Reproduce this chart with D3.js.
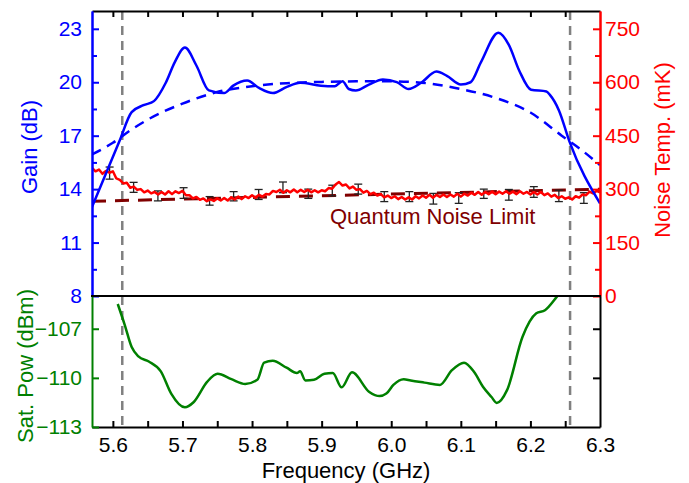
<!DOCTYPE html>
<html>
<head>
<meta charset="utf-8">
<script src="https://cdn.jsdelivr.net/npm/d3@7"></script>
<style>
body{margin:0;background:#fff;}
svg{display:block;font-family:Arial,"Liberation Sans",sans-serif;}
</style>
</head>
<body>
<svg id="chart" width="689" height="483"></svg>
<script>

// gain (measured, solid) and fit (dashed)
var gainFreq = [5.570, 5.6095, 5.627, 5.644, 5.659, 5.676, 5.689, 5.7035, 5.720, 5.738, 5.760, 5.773, 5.793, 5.810, 5.830, 5.850, 5.869, 5.899, 5.919, 5.930, 5.939, 5.949, 5.968, 5.988, 6.008, 6.025, 6.043, 6.065, 6.080, 6.100, 6.114, 6.129, 6.154, 6.169, 6.184, 6.201, 6.223, 6.228, 6.241, 6.256, 6.300];
var gainDb = [13.0, 16.7, 18.32, 18.71, 18.94, 19.97, 21.13, 21.95, 20.94, 19.54, 19.39, 19.81, 20.10, 19.68, 19.39, 19.74, 19.97, 19.81, 19.78, 20.06, 19.62, 19.54, 19.87, 20.16, 20.01, 19.62, 19.97, 20.60, 20.36, 19.87, 20.00, 21.13, 22.78, 22.10, 20.65, 19.58, 19.48, 19.29, 18.42, 16.68, 13.2];

var fitFreq = [5.570, 5.600, 5.627, 5.650, 5.700, 5.750, 5.800, 5.850, 5.900, 5.950, 6.000, 6.050, 6.100, 6.150, 6.200, 6.245, 6.270, 6.300];
var fitDb = [15.95, 16.6, 17.35, 17.9, 18.8, 19.45, 19.78, 19.95, 20.02, 20.05, 20.05, 19.95, 19.62, 19.12, 18.3, 17.0, 16.3, 15.35];

// noise temperature (mK)
var noiseFreq = [5.570, 5.575, 5.580, 5.585, 5.590, 5.595, 5.600, 5.605, 5.610, 5.615, 5.620, 5.625, 5.630, 5.635, 5.640, 5.645, 5.650, 5.655, 5.660, 5.665, 5.670, 5.675, 5.680, 5.685, 5.690, 5.695, 5.700, 5.705, 5.710, 5.715, 5.720, 5.725, 5.730, 5.735, 5.740, 5.745, 5.750, 5.755, 5.760, 5.765, 5.770, 5.775, 5.780, 5.785, 5.790, 5.795, 5.800, 5.805, 5.810, 5.815, 5.820, 5.825, 5.830, 5.835, 5.840, 5.845, 5.850, 5.855, 5.860, 5.865, 5.870, 5.875, 5.880, 5.885, 5.890, 5.895, 5.900, 5.905, 5.910, 5.915, 5.920, 5.925, 5.930, 5.935, 5.940, 5.945, 5.950, 5.955, 5.960, 5.965, 5.970, 5.975, 5.980, 5.985, 5.990, 5.995, 6.000, 6.005, 6.010, 6.015, 6.020, 6.025, 6.030, 6.035, 6.040, 6.045, 6.050, 6.055, 6.060, 6.065, 6.070, 6.075, 6.080, 6.085, 6.090, 6.095, 6.100, 6.105, 6.110, 6.115, 6.120, 6.125, 6.130, 6.135, 6.140, 6.145, 6.150, 6.155, 6.160, 6.165, 6.170, 6.175, 6.180, 6.185, 6.190, 6.195, 6.200, 6.205, 6.210, 6.215, 6.220, 6.225, 6.230, 6.235, 6.240, 6.245, 6.250, 6.255, 6.260, 6.265, 6.270, 6.275, 6.280, 6.285, 6.290, 6.295, 6.300];
var noiseMk = [360, 350, 355, 343, 351, 346, 350, 330, 326, 316, 318, 304, 307, 298, 300, 291, 296, 288, 292, 285, 292, 285, 294, 286, 294, 289, 295, 283, 283, 274, 278, 270, 274, 266, 271, 267, 274, 268, 275, 268, 277, 271, 279, 272, 280, 275, 283, 276, 284, 279, 286, 285, 295, 292, 298, 290, 297, 291, 299, 291, 298, 292, 298, 291, 297, 291, 297, 294, 303, 301, 313, 320, 310, 313, 302, 307, 298, 300, 290, 295, 286, 290, 282, 286, 277, 282, 275, 280, 272, 278, 271, 277, 271, 280, 274, 282, 276, 284, 276, 284, 278, 285, 278, 285, 279, 287, 279, 287, 282, 290, 284, 292, 284, 292, 286, 293, 286, 293, 287, 294, 287, 293, 286, 294, 287, 292, 285, 292, 285, 292, 283, 288, 279, 284, 275, 280, 273, 277, 271, 280, 276, 285, 283, 293, 288, 295, 291];

var errFreq = [5.5953, 5.6298, 5.6647, 5.7016, 5.739, 5.7735, 5.8095, 5.8444, 5.8808, 5.9153, 5.9526, 5.99, 6.026, 6.0605, 6.097, 6.133, 6.169, 6.2049, 6.2409, 6.2768];
var errMk = [345, 305, 281, 289, 267, 280, 285, 305, 287, 296, 300, 279, 279, 273, 275, 287, 284, 292, 281, 275];
var errHalf = [17, 14, 14, 15, 12, 13, 14, 15, 13, 15, 14, 14, 14, 15, 15, 13, 15, 15, 16, 15];

var qnlFreq = [5.57, 6.30];
var qnlMk = [266, 300];

// saturation power (dBm)
var satFreq = [5.607, 5.617, 5.627, 5.6367, 5.6516, 5.6689, 5.6838, 5.7035, 5.7159, 5.7357, 5.7505, 5.7704, 5.7902, 5.8075, 5.8174, 5.8297, 5.8496, 5.8644, 5.869, 5.8767, 5.889, 5.904, 5.916, 5.9288, 5.9436, 5.9685, 5.9833, 5.993, 6.0031, 6.0179, 6.028, 6.0477, 6.070, 6.0872, 6.1046, 6.1194, 6.1318, 6.1441, 6.1516, 6.1664, 6.1887, 6.2085, 6.2209, 6.2383, 6.250];
var satDbm = [-105.49, -106.76, -108.12, -108.69, -109.0, -109.6, -110.96, -111.8, -111.49, -110.23, -109.75, -110.08, -110.37, -110.12, -109.07, -108.96, -109.38, -109.70, -109.60, -110.16, -110.12, -109.75, -109.70, -110.58, -109.66, -110.86, -111.11, -110.96, -110.43, -110.08, -110.16, -110.29, -110.43, -109.53, -109.07, -109.66, -110.54, -111.17, -111.53, -110.75, -107.49, -106.06, -105.87, -105.03, -104.4];

var markerFreq = [5.6135, 6.257];

var freqTicks = [5.6, 5.7, 5.8, 5.9, 6.0, 6.1, 6.2, 6.3];
var freqMinor = [5.6, 5.65, 5.7, 5.75, 5.8, 5.85, 5.9, 5.95, 6.0, 6.05, 6.1, 6.15, 6.2, 6.25];
var gainTicks = [8, 11, 14, 17, 20, 23];
var gainMinor = [9.5, 12.5, 15.5, 18.5, 21.5];
var noiseTicks = [0, 150, 300, 450, 600, 750];
var noiseMinor = [75, 225, 375, 525, 675];
var satTicks = [-113, -110, -107];


var pLeft = 92, pRight = 600, pTop = 11, pMid = 296, pBottom = 427;
var blue = '#0000ff', red = '#ff0000', green = '#008000', darkRed = '#800000';

var svg = d3.select('#chart');

var x = d3.scaleLinear().domain([5.57, 6.3]).range([pLeft, pRight]);
var yGain = d3.scaleLinear().domain([8, 24]).range([pMid, pTop]);
var yNoise = d3.scaleLinear().domain([0, 800]).range([pMid, pTop]);
var ySat = d3.scaleLinear().domain([-113, -105]).range([pBottom, pMid]);

var defs = svg.append('defs');
defs.append('clipPath').attr('id', 'clipTop')
    .append('rect').attr('x', pLeft).attr('y', pTop).attr('width', pRight - pLeft).attr('height', pMid - pTop);
defs.append('clipPath').attr('id', 'clipBot')
    .append('rect').attr('x', pLeft).attr('y', pMid).attr('width', pRight - pLeft).attr('height', pBottom - pMid);

// vertical markers
svg.append('g').selectAll('line')
    .data(markerFreq)
    .enter().append('line')
    .attr('x1', function (d) { return x(d); })
    .attr('x2', function (d) { return x(d); })
    .attr('y1', pTop).attr('y2', pBottom)
    .attr('stroke', '#808080')
    .attr('stroke-width', 2.5)
    .attr('stroke-dasharray', '9,6');

var topG = svg.append('g').attr('clip-path', 'url(#clipTop)');

// quantum noise limit
topG.append('path')
    .datum(d3.zip(qnlFreq, qnlMk))
    .attr('d', d3.line().x(function (d) { return x(d[0]); }).y(function (d) { return yNoise(d[1]); }))
    .attr('fill', 'none')
    .attr('stroke', darkRed)
    .attr('stroke-width', 3)
    .attr('stroke-dasharray', '14,9');

// error bars
var errData = errFreq.map(function (f, i) { return { f: f, v: errMk[i], e: errHalf[i] }; });
var eb = topG.append('g').attr('stroke', '#222').attr('stroke-width', 1.3)
    .selectAll('g').data(errData).enter().append('g');
eb.append('line')
    .attr('x1', function (d) { return x(d.f); }).attr('x2', function (d) { return x(d.f); })
    .attr('y1', function (d) { return yNoise(d.v + d.e); }).attr('y2', function (d) { return yNoise(d.v - d.e); });
eb.append('line')
    .attr('x1', function (d) { return x(d.f) - 4; }).attr('x2', function (d) { return x(d.f) + 4; })
    .attr('y1', function (d) { return yNoise(d.v + d.e); }).attr('y2', function (d) { return yNoise(d.v + d.e); });
eb.append('line')
    .attr('x1', function (d) { return x(d.f) - 4; }).attr('x2', function (d) { return x(d.f) + 4; })
    .attr('y1', function (d) { return yNoise(d.v - d.e); }).attr('y2', function (d) { return yNoise(d.v - d.e); });

// noise temperature
topG.append('path')
    .datum(d3.zip(noiseFreq, noiseMk))
    .attr('d', d3.line().x(function (d) { return x(d[0]); }).y(function (d) { return yNoise(d[1]); }))
    .attr('fill', 'none')
    .attr('stroke', red)
    .attr('stroke-width', 2.5)
    .attr('stroke-linejoin', 'round');

// gain fit
topG.append('path')
    .datum(d3.zip(fitFreq, fitDb))
    .attr('d', d3.line().curve(d3.curveMonotoneX).x(function (d) { return x(d[0]); }).y(function (d) { return yGain(d[1]); }))
    .attr('fill', 'none')
    .attr('stroke', blue)
    .attr('stroke-width', 2.5)
    .attr('stroke-dasharray', '10,7');

// gain
topG.append('path')
    .datum(d3.zip(gainFreq, gainDb))
    .attr('d', d3.line().curve(d3.curveMonotoneX).x(function (d) { return x(d[0]); }).y(function (d) { return yGain(d[1]); }))
    .attr('fill', 'none')
    .attr('stroke', blue)
    .attr('stroke-width', 2.5);

// saturation power
svg.append('g').attr('clip-path', 'url(#clipBot)')
    .append('path')
    .datum(d3.zip(satFreq, satDbm))
    .attr('d', d3.line().curve(d3.curveMonotoneX).x(function (d) { return x(d[0]); }).y(function (d) { return ySat(d[1]); }))
    .attr('fill', 'none')
    .attr('stroke', green)
    .attr('stroke-width', 2.5);

topG.append('text')
    .attr('x', 330).attr('y', 224)
    .attr('fill', darkRed)
    .attr('font-size', 22)
    .text('Quantum Noise Limit');

// axes
function styleAxis(g, color, size) {
    g.attr('color', color)
        .attr('font-family', 'Arial, "Liberation Sans", sans-serif')
        .attr('font-size', size);
    g.selectAll('path.domain').attr('stroke-width', 2);
    g.selectAll('.tick line').attr('stroke-width', 2);
}

svg.append('g').attr('transform', 'translate(0,' + pTop + ')')
    .call(d3.axisTop(x).tickValues(freqMinor).tickSize(-6).tickSizeOuter(0).tickFormat(''))
    .call(styleAxis, '#000', 21);

svg.append('g').attr('transform', 'translate(0,' + pBottom + ')')
    .call(d3.axisBottom(x).tickValues(freqMinor).tickSize(-6).tickSizeOuter(0).tickFormat(''))
    .call(styleAxis, '#000', 21);
svg.append('g').attr('transform', 'translate(0,' + pBottom + ')')
    .call(d3.axisBottom(x).tickValues(freqTicks).tickSize(0).tickSizeOuter(0).tickPadding(10).tickFormat(d3.format('.1f')))
    .call(styleAxis, '#000', 21)
    .call(function (g) { g.select('.domain').remove(); });

svg.append('g').attr('transform', 'translate(' + pLeft + ',0)')
    .call(d3.axisLeft(yGain).tickValues(gainTicks).tickSize(-7).tickSizeOuter(0).tickPadding(10))
    .call(styleAxis, blue, 21);
svg.append('g').attr('transform', 'translate(' + pLeft + ',0)')
    .call(d3.axisLeft(yGain).tickValues(gainMinor).tickSize(-5).tickSizeOuter(0).tickFormat(''))
    .call(styleAxis, blue, 21);

svg.append('g').attr('transform', 'translate(' + pRight + ',0)')
    .call(d3.axisRight(yNoise).tickValues(noiseTicks).tickSize(-7).tickSizeOuter(0).tickPadding(5))
    .call(styleAxis, red, 21);
svg.append('g').attr('transform', 'translate(' + pRight + ',0)')
    .call(d3.axisRight(yNoise).tickValues(noiseMinor).tickSize(-5).tickSizeOuter(0).tickFormat(''))
    .call(styleAxis, red, 21);

svg.append('g').attr('transform', 'translate(' + pLeft + ',0)')
    .call(d3.axisLeft(ySat).tickValues(satTicks).tickSize(-7).tickSizeOuter(0).tickPadding(10))
    .call(styleAxis, green, 21);

svg.append('g').attr('transform', 'translate(' + pRight + ',0)')
    .call(d3.axisRight(ySat).tickValues([-110, -107]).tickSize(-7).tickSizeOuter(0).tickFormat(''))
    .call(styleAxis, '#000', 21);

// divider between panels
svg.append('line')
    .attr('x1', pLeft - 1).attr('x2', pRight + 1)
    .attr('y1', pMid).attr('y2', pMid)
    .attr('stroke', '#000').attr('stroke-width', 2);

// axis titles
svg.append('text')
    .attr('transform', 'translate(37,147) rotate(-90)')
    .attr('text-anchor', 'middle').attr('fill', blue).attr('font-size', 22)
    .text('Gain (dB)');
svg.append('text')
    .attr('transform', 'translate(33,366) rotate(-90)')
    .attr('text-anchor', 'middle').attr('fill', green).attr('font-size', 22)
    .text('Sat. Pow (dBm)');
svg.append('text')
    .attr('transform', 'translate(670,150) rotate(-90)')
    .attr('text-anchor', 'middle').attr('fill', red).attr('font-size', 22)
    .text('Noise Temp. (mK)');
svg.append('text')
    .attr('x', 346).attr('y', 478)
    .attr('text-anchor', 'middle').attr('fill', '#000').attr('font-size', 22)
    .text('Frequency (GHz)');

</script>
</body>
</html>
